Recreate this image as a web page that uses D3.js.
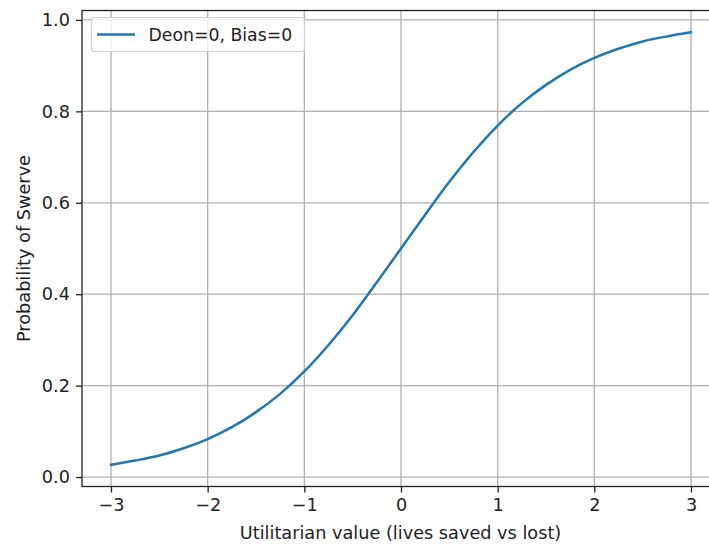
<!DOCTYPE html>
<html>
<head>
<meta charset="utf-8">
<script src="https://cdn.jsdelivr.net/npm/d3@7"></script>
<style>
  html, body { margin: 0; padding: 0; background: #fff; }
  svg { display: block; font-family: "DejaVu Sans", sans-serif; }
</style>
</head>
<body>
<svg id="chart" width="709" height="544"></svg>
<script>
// Utilitarian value (lives saved vs lost) sampled every 0.25
const utilValues = [-3, -2.75, -2.5, -2.25, -2, -1.75, -1.5, -1.25, -1, -0.75, -0.5, -0.25,
  0, 0.25, 0.5, 0.75, 1, 1.25, 1.5, 1.75, 2, 2.25, 2.5, 2.75, 3];
// Probability of swerving at each utilitarian value
const swerveProb = [0.027, 0.036, 0.047, 0.063, 0.083, 0.109, 0.142, 0.182, 0.231, 0.289, 0.354, 0.426,
  0.500, 0.574, 0.646, 0.711, 0.769, 0.818, 0.858, 0.891, 0.917, 0.937, 0.953, 0.964, 0.973];
const xTicks = [-3, -2, -1, 0, 1, 2, 3];
const yTicks = [0.0, 0.2, 0.4, 0.6, 0.8, 1.0];
const seriesLabel = "Deon=0, Bias=0";

const FONT = 17.7;
const LEGEND_FONT = 17.3;
const INK = "#222";
const svg = d3.select("#chart");
const plot = { left: 82, right: 720, top: 10.5, bottom: 486.5 };

const x = d3.scaleLinear().domain([-3.3, 3.3]).range([plot.left, plot.right]);
const y = d3.scaleLinear().domain([-0.0207, 1.0207]).range([plot.bottom, plot.top]);

const fmtMinus = v => (v < 0 ? "\u2212" + Math.abs(v) : String(v));

// Grid
const grid = svg.append("g").attr("stroke", "#b0b0b0").attr("stroke-width", 1.3);
grid.selectAll("line.vx").data(xTicks).enter().append("line")
  .attr("x1", d => x(d)).attr("x2", d => x(d))
  .attr("y1", plot.top).attr("y2", plot.bottom);
grid.selectAll("line.hy").data(yTicks).enter().append("line")
  .attr("y1", d => y(d)).attr("y2", d => y(d))
  .attr("x1", plot.left).attr("x2", plot.right);

// Curve
const line = d3.line().x((d, i) => x(utilValues[i])).y(d => y(d)).curve(d3.curveCatmullRom);
svg.append("path").datum(swerveProb)
  .attr("d", line).attr("fill", "none")
  .attr("stroke", "#1f77b4").attr("stroke-width", 2.5)
  .attr("stroke-linecap", "square");

// Axes
const xAxis = d3.axisBottom(x).tickValues(xTicks).tickSize(6).tickPadding(6).tickFormat(fmtMinus);
const yAxis = d3.axisLeft(y).tickValues(yTicks).tickSize(6).tickPadding(6).tickFormat(d3.format(".1f"));

const gx = svg.append("g").attr("transform", `translate(0,${plot.bottom})`).call(xAxis);
const gy = svg.append("g").attr("transform", `translate(${plot.left},0)`).call(yAxis);
[gx, gy].forEach(g => {
  g.attr("font-size", FONT).attr("font-family", "DejaVu Sans");
  g.selectAll("text").attr("fill", INK);
  g.selectAll("line").attr("stroke", INK).attr("stroke-width", 1.3);
  g.select(".domain").remove();
});

// Frame
svg.append("rect")
  .attr("x", plot.left).attr("y", plot.top)
  .attr("width", plot.right - plot.left).attr("height", plot.bottom - plot.top)
  .attr("fill", "none").attr("stroke", INK).attr("stroke-width", 1.3);

// Axis labels
svg.append("text").attr("x", 400.5).attr("y", 538.5)
  .attr("text-anchor", "middle").attr("font-size", FONT).attr("fill", INK)
  .text("Utilitarian value (lives saved vs lost)");
svg.append("text")
  .attr("transform", `translate(29.5,${(plot.top + plot.bottom) / 2}) rotate(-90)`)
  .attr("text-anchor", "middle").attr("font-size", FONT).attr("fill", INK)
  .text("Probability of Swerve");

// Legend
const lg = svg.append("g");
lg.append("rect").attr("x", 91.5).attr("y", 17.5).attr("width", 213).attr("height", 34)
  .attr("rx", 3).attr("fill", "#fff").attr("fill-opacity", 0.8)
  .attr("stroke", "#d0d0d0").attr("stroke-width", 1.2);
lg.append("line").attr("x1", 97).attr("x2", 135).attr("y1", 34.5).attr("y2", 34.5)
  .attr("stroke", "#1f77b4").attr("stroke-width", 2.5);
lg.append("text").attr("x", 148.5).attr("y", 40.5).attr("font-size", LEGEND_FONT).attr("fill", INK)
  .text(seriesLabel);
</script>
</body>
</html>
